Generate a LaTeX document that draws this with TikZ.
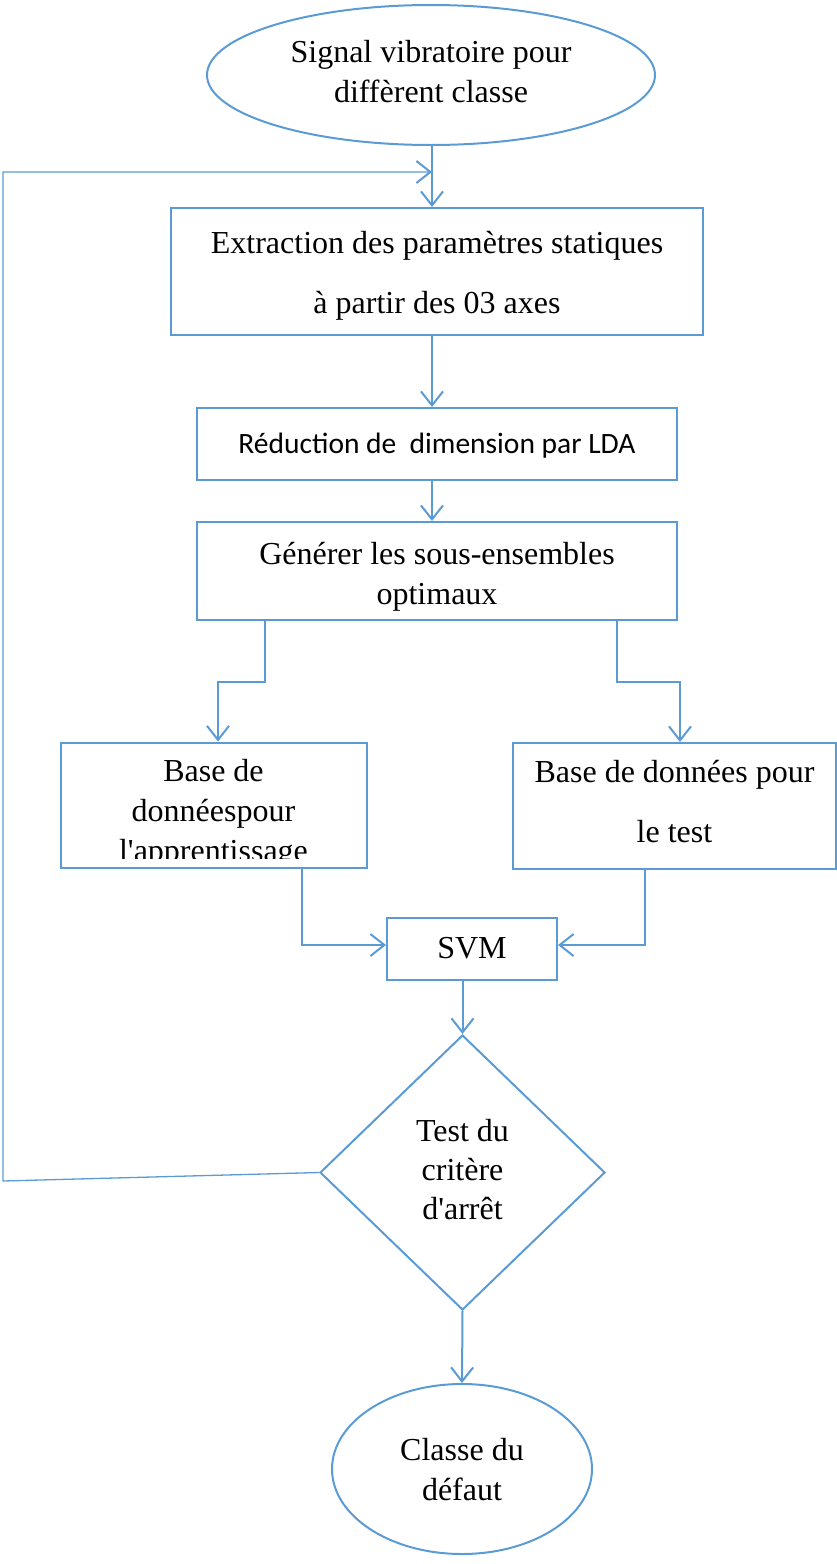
\documentclass[tikz,border=0pt]{standalone}
\usepackage{fontspec}
\setmainfont{Liberation Serif}[Ligatures=TeXOff]
\newfontfamily\calib{Carlito}
\usetikzlibrary{shapes.geometric,arrows.meta}
\definecolor{fb}{HTML}{5B9BD5}
\begin{document}
\begin{tikzpicture}[x=1pt,y=-1pt,
  line width=2pt,
  every node/.style={text=black},
  tn/.style={font=\fontsize{32}{40}\selectfont, align=center, inner sep=0pt},
  wide/.style={font=\fontsize{32}{60}\selectfont, align=center, inner sep=0pt},
  box/.style={draw=fb, line width=2pt, rectangle, inner sep=0pt},
  oval/.style={draw=fb, line width=2pt, ellipse, inner sep=0pt},
  dia/.style={draw=fb, line width=2pt, diamond, inner sep=0pt},
  arr/.style={draw=fb, line width=2pt, -{Straight Barb[length=14pt,width=22pt,line width=2pt]}}]
\useasboundingbox (0,0) rectangle (837,1564);
% shapes
\node[oval, minimum width=448pt, minimum height=140pt] (sig) at (431,75) {};
\node[box, minimum width=532pt, minimum height=127pt] (ext) at (437,271.5) {};
\node[box, minimum width=480pt, minimum height=72pt] (lda) at (437,444) {};
\node[box, minimum width=480pt, minimum height=98pt] (gen) at (437,571) {};
\node[box, minimum width=306pt, minimum height=125pt] (bl) at (213.5,805) {};
\node[box, minimum width=323pt, minimum height=126pt] (br) at (674.5,806) {};
\node[box, minimum width=170pt, minimum height=62pt] (svm) at (472,949) {};
\node[dia, minimum width=285pt, minimum height=275pt] (tst) at (462.5,1172.5) {};
\node[oval, minimum width=260pt, minimum height=170pt] (cls) at (462,1469) {};
% texts
\node[tn] (sigt) at (431,72) {Signal vibratoire pour\\diffèrent classe};
\node[wide] (extt) at (437,275.5) {Extraction des paramètres statiques\\à partir des 03 axes};
\node[inner sep=0pt, font=\calib\fontsize{29.5}{32}\selectfont] (ldat) at (437,446)
  {Réduction de\ \ dimension par LDA};
\node[tn] (gent) at (437,577) {Générer les sous-ensembles\\optimaux};
\begin{scope}
  \clip (61,744) rectangle (366,858);
  \node[tn] (blt) at (213.5,814) {Base de\\donnéespour\\l'apprentissage};
\end{scope}
\node[wide] (brt) at (674.5,802) {Base de données pour\\le test};
\node[tn] (svmt) at (472,948) {SVM};
\node[tn, font=\fontsize{32}{39}\selectfont] (tstt) at (462.5,1170) {Test du\\critère\\d'arrêt};
\node[tn] (clst) at (462,1470) {Classe du\\défaut};
% coordinates
\coordinate (j) at (432,172);
\coordinate (lp1) at (3,1181);
\coordinate (lp2) at (3,172);
\coordinate (gl) at (265,682);
\coordinate (gl2) at (218,682);
\coordinate (gr) at (617,682);
\coordinate (gr2) at (680,682);
\coordinate (sl) at (302,945);
\coordinate (sr) at (645,945);
% connectors
\draw[arr] (sig.south -| j) -- (ext.north -| j);
\draw[arr] (ext.south -| j) -- (lda.north -| j);
\draw[arr] (lda.south -| j) -- (gen.north -| j);
\draw[arr] (gen.south -| gl) -- (gl) -- (gl2) -- (bl.north -| gl2);
\draw[arr] (gen.south -| gr) -- (gr) -- (gr2) -- (br.north -| gr2);
\draw[arr] (bl.south -| sl) -- (sl) -- (svm.west |- sl);
\draw[arr] (br.south -| sr) -- (sr) -- (svm.east |- sr);
\draw[arr] (svm.south -| tst.north) -- (tst.north);
\draw[arr] (tst.south) -- (cls.north);
\draw[fb, line width=1.3pt, -{Straight Barb[length=14pt,width=22pt,line width=2pt]}]
  (tst.west) -- (lp1) -- (lp2) -- (j);
\end{tikzpicture}
\end{document}
